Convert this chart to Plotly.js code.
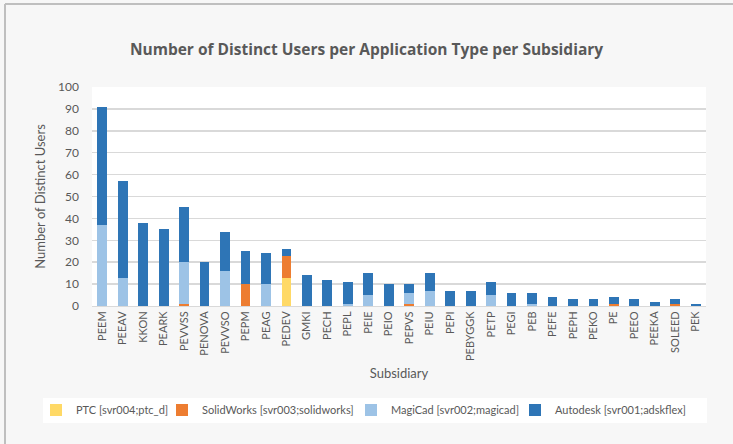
<!DOCTYPE html>
<html>
<head>
<meta charset="utf-8">
<script src="https://cdn.plot.ly/plotly-3.0.1.min.js"></script>
<style>html,body{margin:0;padding:0;background:#f7f7f7;}#chart{width:733px;height:444px;}</style>
</head>
<body>
<div id="chart"></div>
<script>
const categories = ["PEEM","PEEAV","KKON","PEARK","PEVVSS","PENOVA","PEVVSO","PEPM","PEAG","PEDEV","GMKI","PECH","PEPL","PEIE","PEIO","PEPVS","PEIU","PEPI","PEBYGGK","PETP","PEGI","PEB","PEFE","PEPH","PEKO","PE","PEEO","PEEKA","SOLEED","PEK"];
const ptc        = [0,0,0,0,0,0,0,0,0,13,0,0,0,0,0,0,0,0,0,0,0,0,0,0,0,0,0,0,0,0];
const solidworks = [0,0,0,0,1,0,0,10,0,10,0,0,0,0,0,1,0,0,0,0,0,0,0,0,0,1,0,0,1,0];
const magicad    = [37,13,0,0,19,0,16,0,10,0,0,0,1,5,0,5,7,0,0,5,0,1,0,0,0,0,0,0,0,0];
const autodesk   = [54,44,38,35,25,20,18,15,14,3,14,12,10,10,10,4,8,7,7,6,6,5,4,3,3,3,3,2,2,1];
const seriesNames = ["PTC [svr004;ptc_d]","SolidWorks [svr003;solidworks]","MagiCad [svr002;magicad]","Autodesk [svr001;adskflex]"];
const colors = ["#FFD966","#ED7D31","#9DC3E6","#2E75B6"];
const seriesValues = [ptc, solidworks, magicad, autodesk];
const legendIds = ['legend','legend2','legend3','legend4'];
const legendTextX = [75, 201, 390, 554];

const traces = seriesValues.map((vals, i) => ({
  type: 'bar',
  x: categories,
  y: vals,
  name: seriesNames[i],
  legend: legendIds[i],
  showlegend: true,
  marker: {color: colors[i], line: {width: 0}},
  hoverinfo: 'x+y+name'
}));

const L = 92, R = 706, T = 87, B = 306;
const px = v => (v - L) / (R - L);
const py = v => (B - v) / (B - T);

const layout = {
  width: 733, height: 444,
  showlegend: true,
  margin: {l: L, r: 733 - R, t: T, b: 444 - B, pad: 0},
  paper_bgcolor: '#f7f7f7',
  plot_bgcolor: '#ffffff',
  barmode: 'stack',
  bargap: 0.52,
  font: {family: 'Lato, "Open Sans", sans-serif', color: '#595959', size: 12},
  title: {
    text: '<b>Number of Distinct Users per Application Type per Subsidiary</b>',
    font: {size: 15.5, color: '#595959', family: '"Open Sans", Lato, sans-serif'},
    x: 0.5, xref: 'container', xanchor: 'center',
    y: 1 - 50/444, yref: 'container', yanchor: 'middle'
  },
  xaxis: {
    type: 'category',
    tickangle: -90,
    tickfont: {size: 11, color: '#595959'},
    showline: true, linecolor: '#d9d9d9', linewidth: 1,
    ticks: '', showgrid: false,
    title: {text: 'Subsidiary', font: {size: 13, color: '#595959'}, standoff: 8}
  },
  yaxis: {
    range: [0, 100],
    dtick: 10,
    tickfont: {size: 12, color: '#595959'},
    gridcolor: '#d9d9d9', gridwidth: 1.5,
    zeroline: false, showline: false, ticks: '',
    ticklabelstandoff: 12,
    title: {text: 'Number of Distinct Users', font: {size: 13, color: '#595959'}, standoff: 9}
  },
  shapes: [
    {type: 'rect', xref: 'paper', yref: 'paper', x0: px(43), x1: px(707), y0: py(398), y1: py(423),
     fillcolor: '#ffffff', line: {width: 0}, layer: 'below'},
    {type: 'line', xref: 'paper', yref: 'paper', x0: px(5), x1: px(5), y0: py(4), y1: py(444),
     line: {color: '#bfbfbf', width: 2}},
    {type: 'line', xref: 'paper', yref: 'paper', x0: px(5), x1: px(733), y0: py(4), y1: py(4),
     line: {color: '#bfbfbf', width: 2}}
  ]
};

legendIds.forEach((id, i) => {
  layout[id] = {
    orientation: 'h',
    xref: 'container', yref: 'container',
    x: (legendTextX[i] - 39) / 733, xanchor: 'left',
    y: 1 - 410/444, yanchor: 'middle',
    bgcolor: 'rgba(0,0,0,0)',
    font: {size: 11, color: '#595959'},
    itemwidth: 30,
    visible: true
  };
});

Plotly.newPlot('chart', traces, layout, {displayModeBar: false, staticPlot: true});
</script>
</body>
</html>
